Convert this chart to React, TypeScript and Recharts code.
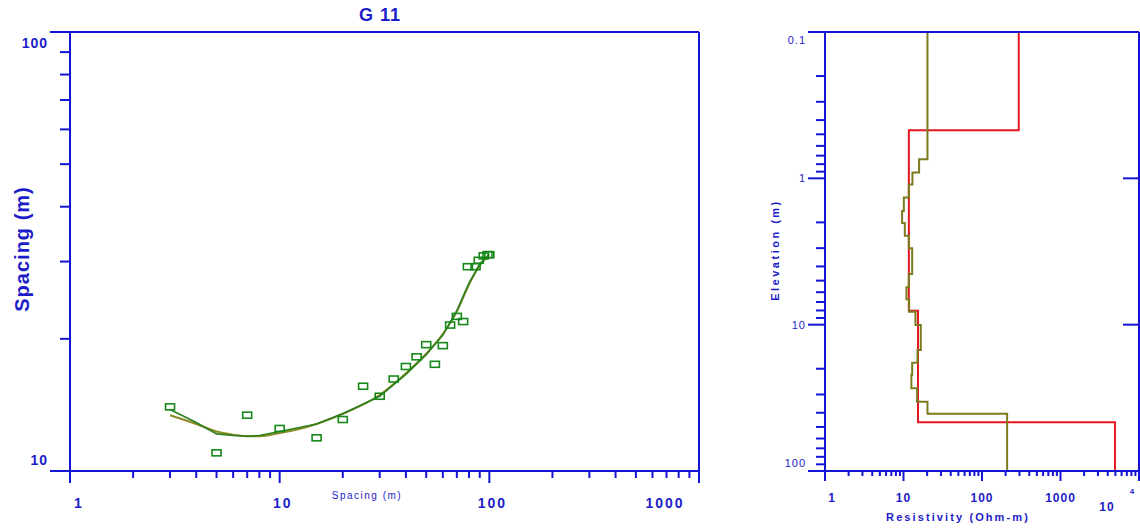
import { ComposedChart, Scatter, Line, XAxis, YAxis } from 'recharts';

// left panel: field sounding curve
const abSpacing = [3, 5, 7, 10, 15, 20, 25, 30, 35, 40, 45, 50, 55, 60, 65, 70, 75, 79, 86, 89, 94, 98, 100];
const apparentRes = [14.0, 11.0, 13.4, 12.5, 11.9, 13.1, 15.6, 14.8, 16.2, 17.3, 18.2, 19.4, 17.5, 19.3, 21.5, 22.5, 21.9, 29.2, 29.2, 30.2, 30.9, 31.1, 31.1];
const fitSpacing = [3, 4, 5, 6, 7, 8, 10, 15, 20, 30, 40, 50, 60, 70, 80, 90, 100];
const fitCalculated = [13.8, 12.9, 12.15, 12.05, 12.0, 12.05, 12.3, 12.8, 13.5, 14.8, 16.6, 18.4, 20.4, 23.2, 26.8, 29.6, 31.2];
const fitSmoothed = [13.4, 12.8, 12.3, 12.1, 12.0, 12.0, 12.2, 12.8, 13.5, 14.9, 16.7, 18.5, 20.5, 23.1, 26.6, 29.4, 31.0];

// right panel: layered models (resistivity per layer, layer boundaries in m)
const modelRes = [294, 11.7, 15.3, 4940];
const modelTops = [0.1, 0.469, 8.02, 46.4, 100];
const inversionRes = [20.2, 15.8, 13.0, 11.7, 10.1, 9.6, 10.4, 11.7, 12.9, 11.7, 10.9, 11.8, 14.2, 16.6, 15.1, 12.9, 12.6, 14.9, 20.2, 209];
const inversionTops = [0.1, 0.741, 0.911, 1.1, 1.35, 1.67, 2.02, 2.47, 3.01, 4.51, 5.56, 6.71, 8.15, 10.05, 14.9, 18.2, 22.0, 27.2, 33.6, 40.7, 100];

const spacingDecades = [1, 10, 100, 1000];
const resDecades = [1, 10, 100, 1000, 10000];
const depthDecades = [0.1, 1, 10, 100];
const leftYDecades = [10, 100];

const BLUE = '#1414d4';
const TXT = '#1c1cc8';
const FONT = '"Liberation Sans", Arial, sans-serif';

const minorTicks = (decades: number[]) => {
  const out: number[] = [];
  decades.forEach((d, i) => {
    if (i === decades.length - 1) { out.push(d); return; }
    for (let k = 1; k < 10; k++) out.push(+(d * k).toPrecision(3));
  });
  return out;
};
const isDecade = (v: number) => Math.abs(Math.log10(v) - Math.round(Math.log10(v))) < 1e-6;

const fieldData = abSpacing.map((s, i) => ({ s, r: apparentRes[i] }));
const calcData = fitSpacing.map((s, i) => ({ s, r: fitCalculated[i] }));
const smoothData = fitSpacing.map((s, i) => ({ s, r: fitSmoothed[i] }));

const steps = (res: number[], tops: number[]) => {
  const pts: { res: number; depth: number }[] = [];
  res.forEach((r, i) => {
    pts.push({ res: r, depth: tops[i] });
    pts.push({ res: r, depth: tops[i + 1] });
  });
  return pts;
};
const modelData = steps(modelRes, modelTops);
const inversionData = steps(inversionRes, inversionTops);

const leftXShift: Record<number, number> = { 1: 9, 10: 3, 100: 3, 1000: -34 };

const LeftBottomTick = (p: any) => {
  const { x, y, payload } = p;
  const v = payload.value;
  const major = isDecade(v);
  return (
    <g>
      <line x1={x} x2={x} y1={y} y2={y + (major ? 12 : 7)} stroke={BLUE} strokeWidth={2} />
      {major && (
        <text x={x + (leftXShift[v] ?? 0)} y={y + 37} textAnchor="middle" fill={TXT} fontSize={14} fontWeight="bold" letterSpacing={2} fontFamily={FONT}>
          {v}
        </text>
      )}
    </g>
  );
};

const LeftYTick = (p: any) => {
  const { x, y, payload } = p;
  const v = payload.value;
  const major = isDecade(v);
  return (
    <g>
      <line x1={x - (major ? 20 : 10)} x2={x} y1={y} y2={y} stroke={BLUE} strokeWidth={2} />
      {major && (
        <text x={x - 22} y={v === 100 ? y + 16 : y - 6} textAnchor="end" fill={TXT} fontSize={14} fontWeight="bold" letterSpacing={1} fontFamily={FONT}>
          {v}
        </text>
      )}
    </g>
  );
};

const TopTick = (len: number) => (p: any) => (
  <line x1={p.x} x2={p.x} y1={p.y} y2={p.y + len} stroke={BLUE} strokeWidth={2} />
);

const RightBottomTick = (p: any) => {
  const { x, y, payload } = p;
  const v = payload.value;
  const major = isDecade(v);
  let label = null;
  if (major && v < 10000) {
    label = (
      <text x={x + (v === 1 ? 7 : 0)} y={y + 31} textAnchor="middle" fill={TXT} fontSize={12} fontWeight="bold" letterSpacing={1} fontFamily={FONT}>
        {v}
      </text>
    );
  } else if (v === 10000) {
    label = (
      <g>
        <text x={x - 32} y={y + 40} textAnchor="middle" fill={TXT} fontSize={12} fontWeight="bold" letterSpacing={1} fontFamily={FONT}>10</text>
        <text x={x - 7} y={y + 23} textAnchor="middle" fill={TXT} fontSize={8} fontWeight="bold" fontFamily={FONT}>4</text>
      </g>
    );
  }
  return (
    <g>
      <line x1={x} x2={x} y1={y} y2={y + (major ? 10 : 5)} stroke={BLUE} strokeWidth={2} />
      {label}
    </g>
  );
};

const depthLabelDy: Record<string, number> = { '0.1': 12, '1': 4, '10': 4, '100': -4 };

const RightYTick = (p: any) => {
  const { x, y, payload } = p;
  const v = payload.value;
  const major = isDecade(v);
  return (
    <g>
      <line x1={x - (major ? 17 : 9)} x2={x} y1={y} y2={y} stroke={BLUE} strokeWidth={2} />
      {major && (
        <text x={x - 19} y={y + depthLabelDy[String(v)]} textAnchor="end" fill={TXT} fontSize={11} letterSpacing={1} fontFamily={FONT}>
          {v}
        </text>
      )}
    </g>
  );
};

const RightSideTick = (p: any) => (
  <line x1={p.x - 16} x2={p.x} y1={p.y} y2={p.y} stroke={BLUE} strokeWidth={2} />
);

const Box = (p: any) => (
  <rect x={p.cx - 4.5} y={p.cy - 3} width={9} height={6} fill="none" stroke="#16881a" strokeWidth={1.6} />
);

const axisLine = { stroke: BLUE, strokeWidth: 2 };

export default function App() {
  return (
    <div style={{ position: 'absolute', left: 0, top: 0, width: 1140, height: 532, background: '#fff', fontFamily: FONT }}>
      <div style={{ position: 'absolute', left: 0, top: 0 }}>
        <ComposedChart width={720} height={532} margin={{ top: 31, left: 69, right: 20, bottom: 60 }}>
          <XAxis dataKey="s" type="number" scale="log" domain={[1, 1000]} allowDataOverflow ticks={minorTicks(spacingDecades)}
            interval={0} height={1} tickSize={0} tickMargin={0} tickLine={false} axisLine={axisLine} tick={LeftBottomTick} />
          <XAxis xAxisId="top" orientation="top" type="number" scale="log" domain={[1, 1000]} allowDataOverflow ticks={[10, 100]}
            interval={0} height={1} tickSize={0} tickMargin={0} tickLine={false} axisLine={axisLine} tick={TopTick(12)} />
          <YAxis dataKey="r" type="number" scale="log" domain={[10, 100]} allowDataOverflow ticks={minorTicks(leftYDecades)}
            interval={0} width={1} tickSize={0} tickMargin={0} tickLine={false} axisLine={axisLine} tick={LeftYTick} />
          <YAxis yAxisId="right" orientation="right" type="number" scale="log" domain={[10, 100]} allowDataOverflow
            width={1} tick={false} tickLine={false} axisLine={axisLine} />
          <Line data={smoothData} dataKey="r" type="monotone" stroke="#8a8a24" strokeWidth={2} dot={false} isAnimationActive={false} />
          <Line data={calcData} dataKey="r" type="linear" stroke="#2c7f1e" strokeWidth={1.6} dot={false} isAnimationActive={false} />
          <Scatter data={fieldData} shape={Box} isAnimationActive={false} />
        </ComposedChart>
      </div>
      <div style={{ position: 'absolute', left: 740, top: 0 }}>
        <ComposedChart width={400} height={532} margin={{ top: 31, left: 84, right: 0, bottom: 60 }}>
          <XAxis dataKey="res" type="number" scale="log" domain={[1, 10000]} allowDataOverflow ticks={minorTicks(resDecades)}
            interval={0} height={1} tickSize={0} tickMargin={0} tickLine={false} axisLine={axisLine} tick={RightBottomTick} />
          <XAxis xAxisId="top" orientation="top" type="number" scale="log" domain={[1, 10000]} allowDataOverflow ticks={[10, 100, 1000]}
            interval={0} height={1} tickSize={0} tickMargin={0} tickLine={false} axisLine={axisLine} tick={TopTick(9)} />
          <YAxis type="number" scale="log" domain={[0.1, 100]} reversed allowDataOverflow ticks={minorTicks(depthDecades)}
            interval={0} width={1} tickSize={0} tickMargin={0} tickLine={false} axisLine={axisLine} tick={RightYTick} />
          <YAxis yAxisId="right" orientation="right" type="number" scale="log" domain={[0.1, 100]} reversed allowDataOverflow ticks={[1, 10]}
            interval={0} width={1} tickSize={0} tickMargin={0} tickLine={false} axisLine={axisLine} tick={RightSideTick} />
          <Line data={modelData} dataKey="depth" type="linear" stroke="#e5161e" strokeWidth={2} dot={false} isAnimationActive={false} />
          <Line data={inversionData} dataKey="depth" type="linear" stroke="#7c7a1e" strokeWidth={2} dot={false} isAnimationActive={false} />
        </ComposedChart>
      </div>
      <svg width={1140} height={532} style={{ position: 'absolute', left: 0, top: 0, pointerEvents: 'none' }}>
        <text x={380} y={21} textAnchor="middle" fill={TXT} fontSize={18} fontWeight="bold" letterSpacing={1} fontFamily={FONT}>G 11</text>
        <text transform="translate(29,249) rotate(-90)" textAnchor="middle" fill={TXT} fontSize={20} fontWeight="bold" letterSpacing={1} fontFamily={FONT}>Spacing (m)</text>
        <text x={367} y={499} textAnchor="middle" fill={TXT} fontSize={10} letterSpacing={1.5} fontFamily={FONT}>Spacing (m)</text>
        <text x={958} y={521} textAnchor="middle" fill={TXT} fontSize={11} fontWeight="bold" letterSpacing={2.1} fontFamily={FONT}>Resistivity (Ohm-m)</text>
        <text transform="translate(779,250) rotate(-90)" textAnchor="middle" fill={TXT} fontSize={11} fontWeight="bold" letterSpacing={2.5} fontFamily={FONT}>Elevation (m)</text>
      </svg>
    </div>
  );
}
